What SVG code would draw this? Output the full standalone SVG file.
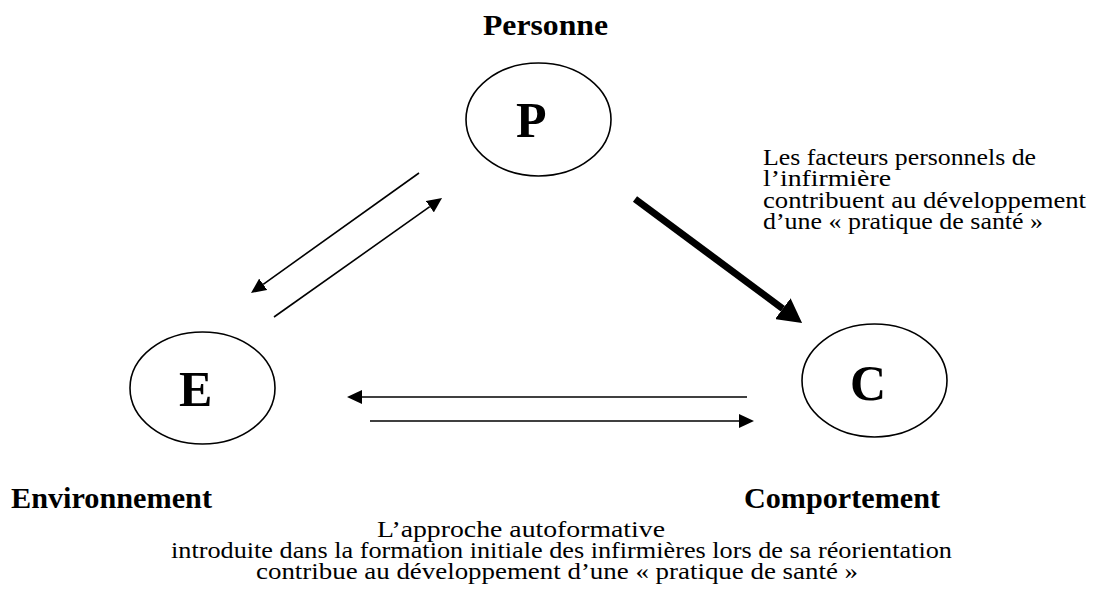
<svg xmlns="http://www.w3.org/2000/svg" width="1095" height="606" viewBox="0 0 1095 606">
<style>
.bg{fill:#ffffff}
.node{fill:#ffffff;stroke:#000000;stroke-width:1.6}
.big{font-family:"Liberation Serif","Times New Roman",serif;font-weight:bold;font-size:50px;fill:#000000}
.lbl{font-family:"Liberation Serif","Times New Roman",serif;font-weight:bold;font-size:30px;fill:#000000}
.txt{font-family:"Liberation Serif","Times New Roman",serif;font-size:24px;fill:#000000}
.thin{stroke:#000000;stroke-width:1.6;fill:none}
.thick{stroke:#000000;stroke-width:7;fill:none}
</style>
<defs>
<marker id="ah" markerUnits="userSpaceOnUse" viewBox="0 -7 15 14" markerWidth="15" markerHeight="14" refX="0" refY="0" orient="auto">
<path d="M0,-7 L15,0 L0,7 Z" fill="#000000"/>
</marker>
<marker id="ahBig" markerUnits="userSpaceOnUse" viewBox="0 -13 24 26" markerWidth="24" markerHeight="26" refX="0" refY="0" orient="auto">
<path d="M0,-13 L24,0 L0,13 Z" fill="#000000"/>
</marker>
</defs>
<rect class="bg" x="0" y="0" width="1095" height="606"/>

<g id="connectors">
<line class="thin" x1="419" y1="173" x2="263.2" y2="284.3" marker-end="url(#ah)"/>
<line class="thin" x1="274" y1="317" x2="429.8" y2="206.7" marker-end="url(#ah)"/>
<line class="thin" x1="747" y1="397" x2="362" y2="397" marker-end="url(#ah)"/>
<line class="thin" x1="370" y1="421" x2="739" y2="421" marker-end="url(#ah)"/>
<line class="thick" x1="635" y1="199" x2="782.8" y2="308.7" marker-end="url(#ahBig)"/>
</g>

<g id="node-P">
<ellipse class="node" cx="538.5" cy="119.5" rx="72.5" ry="56.5"/>
<text class="big" x="516" y="137">P</text>
<text class="lbl" x="483" y="35" textLength="125" lengthAdjust="spacingAndGlyphs">Personne</text>
</g>

<g id="node-E">
<ellipse class="node" cx="202.5" cy="388" rx="72.5" ry="56"/>
<text class="big" x="179" y="406">E</text>
<text class="lbl" x="11" y="508" textLength="201" lengthAdjust="spacingAndGlyphs">Environnement</text>
</g>

<g id="node-C">
<ellipse class="node" cx="874.5" cy="380.5" rx="72.5" ry="56.5"/>
<text class="big" x="850" y="400">C</text>
<text class="lbl" x="744" y="508" textLength="196" lengthAdjust="spacingAndGlyphs">Comportement</text>
</g>

<g id="note-right">
<text class="txt" x="763" y="165" textLength="273" lengthAdjust="spacingAndGlyphs">Les facteurs personnels de</text>
<text class="txt" x="763" y="186" textLength="128" lengthAdjust="spacingAndGlyphs">l’infirmière</text>
<text class="txt" x="763" y="208" textLength="323" lengthAdjust="spacingAndGlyphs">contribuent au développement</text>
<text class="txt" x="763" y="229" textLength="280" lengthAdjust="spacingAndGlyphs">d’une « pratique de santé »</text>
</g>

<g id="note-bottom">
<text class="txt" x="377" y="537" textLength="288" lengthAdjust="spacingAndGlyphs">L’approche autoformative</text>
<text class="txt" x="171" y="558" textLength="781" lengthAdjust="spacingAndGlyphs">introduite dans la formation initiale des infirmières lors de sa réorientation</text>
<text class="txt" x="256" y="579" textLength="602" lengthAdjust="spacingAndGlyphs">contribue au développement d’une « pratique de santé »</text>
</g>
</svg>
